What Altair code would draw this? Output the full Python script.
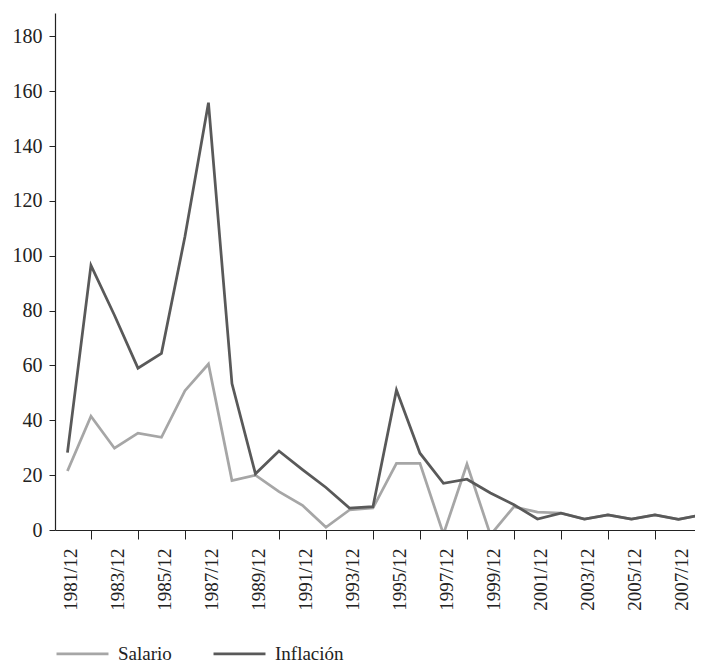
import altair as alt
import pandas as pd

years = list(range(1981, 2009))
salario = [21.5, 41.5, 29.8, 35.3, 33.8, 50.8, 60.5, 18.0, 20.0, 14.0,
           9.0, 1.0, 7.3, 8.0, 24.3, 24.3, -1.5, 24.0, -1.8, 8.5,
           6.5, 6.2, 4.0, 5.5, 4.0, 5.5, 3.9, 5.5]
inflacion = [28.2, 96.5, 78.3, 59.0, 64.4, 107.0, 155.8, 53.4, 20.5, 28.8,
             22.0, 15.5, 8.0, 8.5, 51.0, 28.0, 17.0, 18.5, 13.5, 9.2,
             4.0, 6.1, 4.0, 5.5, 4.0, 5.5, 3.9, 5.5]
series = ["Salario", "Inflación"]
colors = ["#a6a6a6", "#595959"]
y_ticks = list(range(0, 181, 20))
x_ticks = years[:-1]

rows = []
for name, vals in zip(series, [salario, inflacion]):
    for yr, v in zip(years, vals):
        rows.append({"year": yr, "value": v, "serie": name})
df = pd.DataFrame(rows)

font = "Liberation Serif, Times New Roman, serif"
W = 640
H = 517
x_start = 1980.47
px_per_year = 23.5
x_end = x_start + W / px_per_year

chart = alt.Chart(df).mark_line(strokeWidth=2.75, clip=True).encode(
    x=alt.X(
        "year:Q",
        scale=alt.Scale(domain=[x_start, x_end], nice=False, zero=False),
        axis=alt.Axis(
            values=x_ticks,
            title=None,
            grid=False,
            labelExpr="datum.value % 2 == 1 ? datum.value + '/12' : ''",
            labelAngle=270,
            labelFontSize=19,
            labelFont=font,
            labelColor="#222222",
            labelPadding=9,
            labelOffset=3,
            labelFlush=False,
            labelOverlap=False,
            labelBound=False,
            tickSize=9,
            tickColor="#222222",
            tickOpacity={"condition": {"test": "datum.value % 2 == 0", "value": 1}, "value": 0},
            domainColor="#222222",
            domainWidth=1.2,
        ),
    ),
    y=alt.Y(
        "value:Q",
        scale=alt.Scale(domain=[0, 188.5], nice=False, zero=False),
        axis=alt.Axis(
            values=y_ticks,
            title=None,
            grid=False,
            labelFontSize=20,
            labelFont=font,
            labelColor="#222222",
            labelPadding=7,
            labelFlush=False,
            tickSize=6,
            tickColor="#222222",
            domainColor="#222222",
            domainWidth=1.2,
        ),
    ),
    color=alt.Color(
        "serie:N",
        sort=series,
        scale=alt.Scale(domain=series, range=colors),
        legend=alt.Legend(
            title=None,
            orient="none",
            legendX=0,
            legendY=H + 96,
            direction="horizontal",
            symbolType="stroke",
            symbolSize=2700,
            symbolStrokeWidth=2.75,
            labelFontSize=19,
            labelFont=font,
            labelColor="#222222",
            labelOffset=8,
            columnPadding=36,
            padding=0,
        ),
    ),
).properties(
    width=W,
    height=H,
    autosize=alt.AutoSizeParams(type="none"),
    padding={"left": 47, "top": 5, "right": 0, "bottom": 135},
).configure_view(stroke=None)

chart.save("out.html", embed_options={"renderer": "svg", "actions": False})
